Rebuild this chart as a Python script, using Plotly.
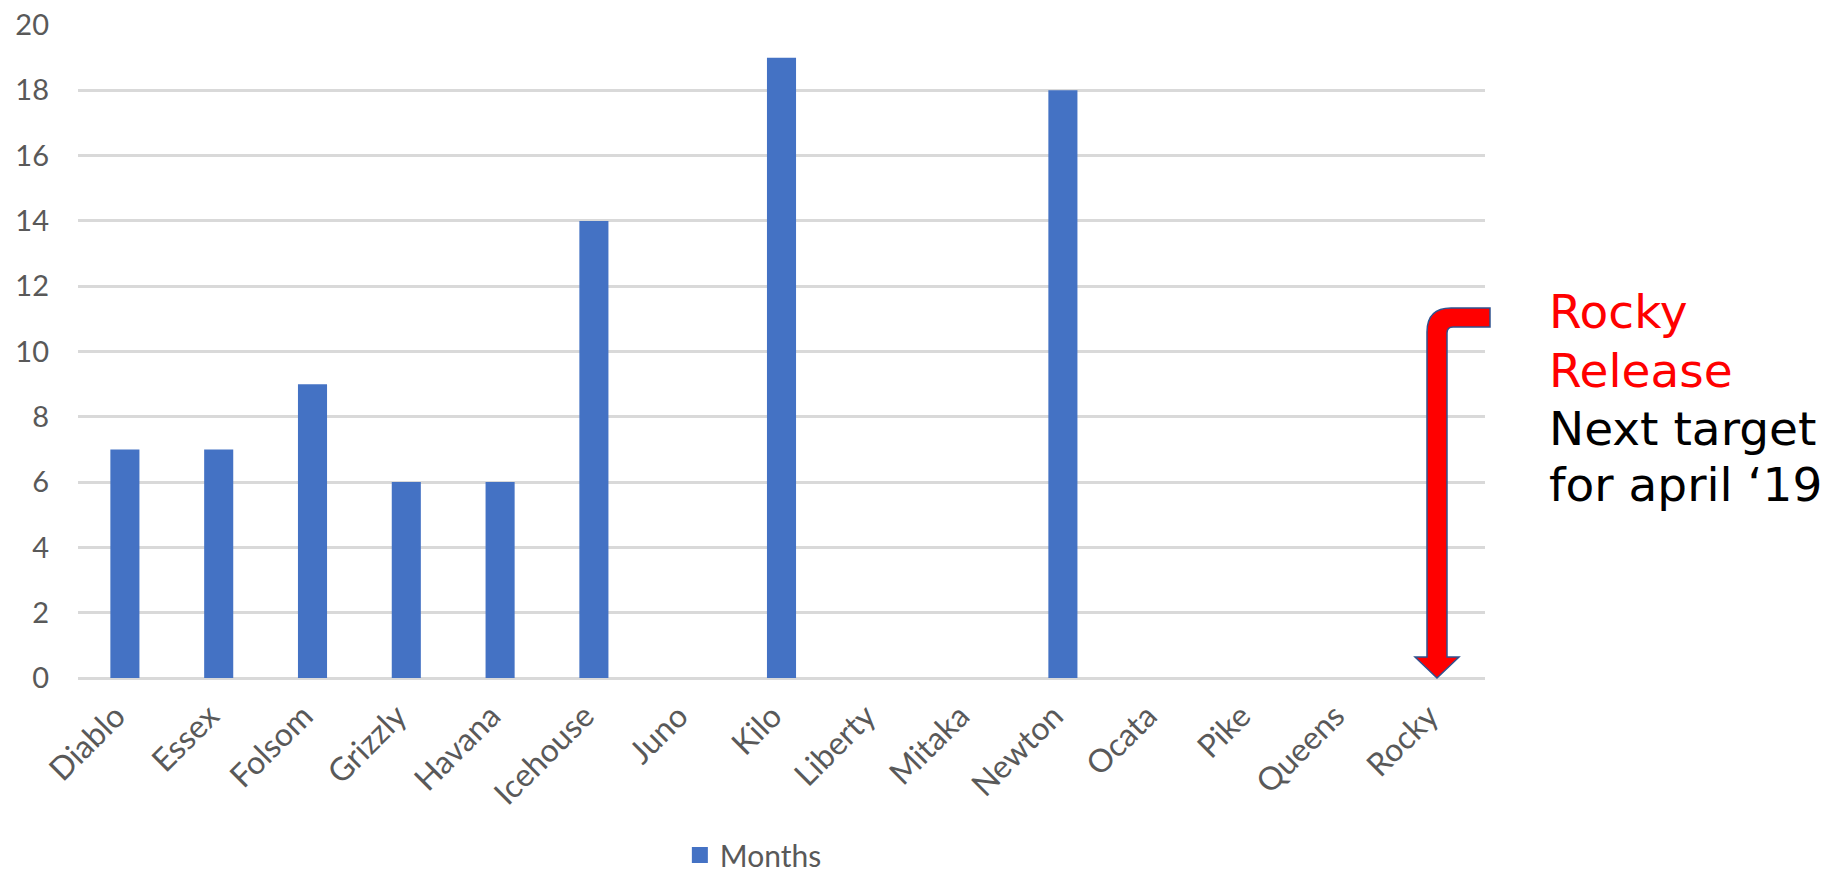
import plotly.graph_objects as go

releases = ["Diablo", "Essex", "Folsom", "Grizzly", "Havana", "Icehouse", "Juno",
            "Kilo", "Liberty", "Mitaka", "Newton", "Ocata", "Pike", "Queens", "Rocky"]
months = [7, 7, 9, 6, 6, 14, None, 19, None, None, 18, None, None, None, None]
y_ticks = list(range(0, 21, 2))
note_lines = [("Rocky", "#FF0000"), ("Release", "#FF0000"),
              ("Next target", "#000000"), ("for april \u201819", "#000000")]

W, H = 1844, 879
ML, MR, MT, MB = 78, 359, 25, 201
PW, PH = W - ML - MR, H - MT - MB


def px(xp):
    return (xp - ML) / PW


def py(yp):
    return (H - MB - yp) / PH


BLUE = "#4472C4"
fig = go.Figure()
fig.add_trace(go.Bar(x=releases, y=months, name="Months", showlegend=False,
                     marker=dict(color=BLUE, line=dict(width=0))))
# legend entry with a larger square swatch
fig.add_trace(go.Scatter(x=[None], y=[None], mode="markers", name="Months",
                         marker=dict(symbol="square", size=20, color=BLUE)))

FONT = "Lato, Liberation Sans, sans-serif"
fig.update_layout(
    width=W, height=H,
    margin=dict(l=ML, r=MR, t=MT, b=MB, autoexpand=False),
    plot_bgcolor="white", paper_bgcolor="white",
    bargap=0.69,
    showlegend=True,
    legend=dict(orientation="h", x=0.48, xanchor="center", y=py(855), yanchor="middle",
                itemwidth=30, font=dict(family=FONT, size=30, color="#595959")),
    xaxis=dict(type="category", range=[-0.5, len(releases) - 0.5], tickangle=-45,
               tickfont=dict(family=FONT, size=32, color="#595959"),
               showgrid=False, showline=False, ticks="", ticklabelstandoff=12,
               ticklabelshift=-9),
    yaxis=dict(range=[0, 20], tickvals=y_ticks,
               tickfont=dict(family=FONT, size=29, color="#595959"), showgrid=True,
               gridcolor="#D9D9D9", gridwidth=2.5, zeroline=True, zerolinecolor="#D9D9D9",
               zerolinewidth=2.5, showline=False, ticks="", ticklabelstandoff=28),
)


def P(x, y):
    return f"{px(x):.5f},{py(y):.5f}"


# bent arrow pointing down to Rocky
path = ("M " + P(1490, 308) + " L " + P(1451, 308) + " Q " + P(1427, 308) + " " + P(1427, 332) +
        " L " + P(1427, 657) + " L " + P(1415, 657) + " L " + P(1437, 678) + " L " + P(1459, 657) +
        " L " + P(1447, 657) + " L " + P(1447, 333) + " Q " + P(1447, 327) + " " + P(1453, 327) +
        " L " + P(1490, 327) + " Z")
fig.add_shape(type="path", xref="paper", yref="paper", path=path,
              fillcolor="#FF0000", line=dict(color="#2F528F", width=1.5), layer="above")

centers = [311, 370, 428, 484]
for (txt, col), yc in zip(note_lines, centers):
    fig.add_annotation(xref="paper", yref="paper", x=px(1547), y=py(yc), xanchor="left",
                       yanchor="middle", text=txt, showarrow=False,
                       font=dict(family="DejaVu Sans", size=47, color=col))

fig.write_html("out.html")
